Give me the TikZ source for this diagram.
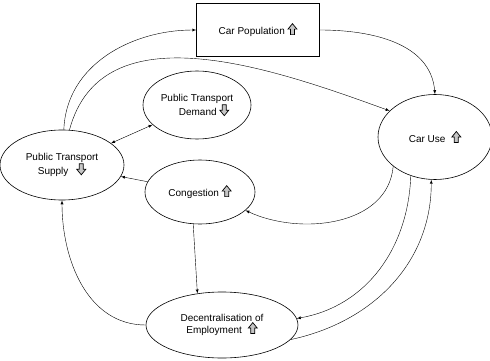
\documentclass[tikz,border=0pt]{standalone}
\usepackage{fontspec}
\setmainfont{Liberation Sans}
\usetikzlibrary{shapes,arrows}

% small trend icons
\newcommand{\arrup}{\tikz[baseline=0pt,x=1pt,y=1pt]\draw[line width=0.7pt, fill=gray!45]
  (2.5,0) -- (6.5,0) -- (6.5,5.5) -- (9,5.5) -- (4.5,11) -- (0,5.5) -- (2.5,5.5) -- cycle;}
\newcommand{\arrdn}{\tikz[baseline=0pt,x=1pt,y=1pt]\draw[line width=0.7pt, fill=gray!45]
  (2.5,11) -- (6.5,11) -- (6.5,5.5) -- (9,5.5) -- (4.5,0) -- (0,5.5) -- (2.5,5.5) -- cycle;}

\begin{document}
\begin{tikzpicture}[x=1pt, y=1pt, font=\fontsize{10}{12}\selectfont]
\tikzstyle{vertexr}=[rectangle, draw, thin, minimum width=123pt, minimum height=53pt, inner sep=2pt]
\tikzstyle{vertexe}=[ellipse, draw, semithick, inner sep=0pt, align=center]
\tikzstyle{drawstyle}=[thin, ->, >=latex]

\useasboundingbox (0,0) rectangle (490,360);

\node[vertexr] (Pop) at (258,330) {Car Population \arrup};
\node[vertexe, minimum width=114pt, minimum height=85pt] (Use) at (435,223) {Car Use\hspace{6pt}\arrup};
\node[vertexe, minimum width=124pt, minimum height=70pt] (Sup) at (62,195) {Public Transport\\Supply\hspace{8pt}\arrdn};
\node[vertexe, minimum width=108pt, minimum height=68pt] (Dem) at (197,255) {Public Transport\\\hspace{14pt}Demand \arrdn};
\node[vertexe, minimum width=110pt, minimum height=64pt] (Con) at (200,168) {Congestion \arrup};
\node[vertexe, minimum width=152pt, minimum height=66pt] (Dec) at (222,35) {Decentralisation of\\Employment\hspace{6pt}\arrup};

\draw[drawstyle] (Sup.87) to[out=88, in=180] (Pop.west);
\draw[drawstyle] (Pop.east) to[out=0, in=95] (Use.north);
\draw[drawstyle] (Sup.78) to[out=75, in=160] (Use.150);
\draw[drawstyle, <->] (Dem) -- (Sup);
\draw[drawstyle] (Con) -- (Sup);
\draw[drawstyle] (Use.215) to[out=265, in=-25] (Con.-22);
\draw[drawstyle] (Use.238) to[out=268, in=10] (Dec.5);
\draw[drawstyle] (Dec.-12) to[out=12, in=270] (Use.-95);
\draw[drawstyle] (Con.258) -- (Dec.128);
\draw[drawstyle] (Dec.west) to[out=180, in=270] (Sup.south);
\end{tikzpicture}
\end{document}
